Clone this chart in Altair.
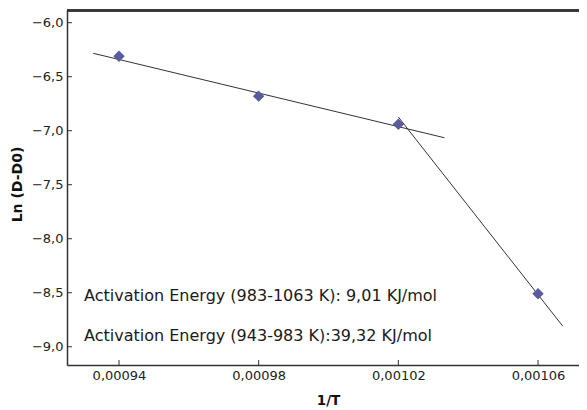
import altair as alt
import pandas as pd

# Data points
inv_T = [0.00094, 0.00098, 0.00102, 0.00106]
ln_d = [-6.31, -6.68, -6.94, -8.51]

# Fitted lines (endpoints)
fit_seg = ["983-1063 K", "983-1063 K", "943-983 K", "943-983 K"]
fit_x = [0.0009326, 0.0010332, 0.00102, 0.0010671]
fit_y = [-6.283, -7.065, -6.873, -8.81]

# Annotations
ann_text = ["Activation Energy (983-1063 K): 9,01 KJ/mol",
            "Activation Energy (943-983 K):39,32 KJ/mol"]
ann_x = [0.00093, 0.00093]
ann_y = [-8.578, -8.948]

# Ticks
x_ticks = [0.00094, 0.00098, 0.00102, 0.00106]
y_ticks = [-6.0, -6.5, -7.0, -7.5, -8.0, -8.5, -9.0]

X_DOMAIN = [0.00092511, 0.00107174]
Y_DOMAIN = [-9.169, -5.8824]
W, H = 512, 355
FONT = "DejaVu Sans"
AX = "#333333"

pts = pd.DataFrame({"x": inv_T, "y": ln_d})
fits = pd.DataFrame({"seg": fit_seg, "x": fit_x, "y": fit_y})
anns = pd.DataFrame({"t": ann_text, "x": ann_x, "y": ann_y})
xt = pd.DataFrame({"x": x_ticks})
yt = pd.DataFrame({"y": y_ticks})

xscale = alt.Scale(domain=X_DOMAIN, nice=False, zero=False)
yscale = alt.Scale(domain=Y_DOMAIN, nice=False, zero=False)

xaxis = alt.Axis(values=x_ticks, grid=False, ticks=False, labelPadding=4,
                 labelExpr="replace(format(datum.value, '.5f'), '.', ',')",
                 labelFont=FONT, labelFontSize=13, labelColor="#222222",
                 domainColor=AX, domainWidth=1.5,
                 title="1/T", titleFont=FONT, titleFontSize=13.5, titleFontWeight="bold",
                 titleColor="#111111", titleX=261, titleY=35, titleBaseline="middle",
                 titleAlign="center")
yaxis = alt.Axis(values=y_ticks, grid=False, ticks=False, labelPadding=4,
                 labelExpr="replace(format(datum.value, '.1f'), '.', ',')",
                 labelFont=FONT, labelFontSize=13, labelColor="#222222",
                 labelBaseline="middle",
                 domainColor=AX, domainWidth=1.5,
                 title="Ln (D-D0)", titleFont=FONT, titleFontSize=14, titleFontWeight="bold",
                 titleColor="#111111", titleX=-50, titleY=174, titleAngle=-90,
                 titleBaseline="middle", titleAlign="center")

base_lines = alt.Chart(fits).mark_line(color="#333333", strokeWidth=1).encode(
    x=alt.X("x:Q", scale=xscale, axis=xaxis),
    y=alt.Y("y:Q", scale=yscale, axis=yaxis),
    detail="seg:N",
)

points = alt.Chart(pts).mark_point(shape="diamond", filled=True, size=130,
                                   color="#5a5a9e", opacity=1).encode(
    x=alt.X("x:Q", scale=xscale),
    y=alt.Y("y:Q", scale=yscale),
)

texts = alt.Chart(anns).mark_text(align="left", baseline="alphabetic", font=FONT,
                                  fontSize=16, color="#1a1a1a").encode(
    x=alt.X("x:Q", scale=xscale),
    y=alt.Y("y:Q", scale=yscale),
    text="t:N",
)

xticks = alt.Chart(xt).mark_rule(color=AX, strokeWidth=1).encode(
    x=alt.X("x:Q", scale=xscale),
    y=alt.value(H),
    y2=alt.value(H - 5),
)

yticks = alt.Chart(yt).mark_rule(color=AX, strokeWidth=1).encode(
    y=alt.Y("y:Q", scale=yscale),
    x=alt.value(0),
    x2=alt.value(5),
)

topline = alt.Chart(xt).mark_rule(color=AX, strokeWidth=2).encode(
    y=alt.value(0.5),
    x=alt.value(0),
    x2=alt.value(W),
)

chart = alt.layer(base_lines, points, texts, xticks, yticks, topline).properties(
    width=W, height=H,
    autosize=alt.AutoSizeParams(type="none"),
    padding={"left": 59, "top": 2, "right": 0, "bottom": 45},
).configure_view(stroke=None)

chart.save("out.html", embed_options={"renderer": "svg", "actions": False})
